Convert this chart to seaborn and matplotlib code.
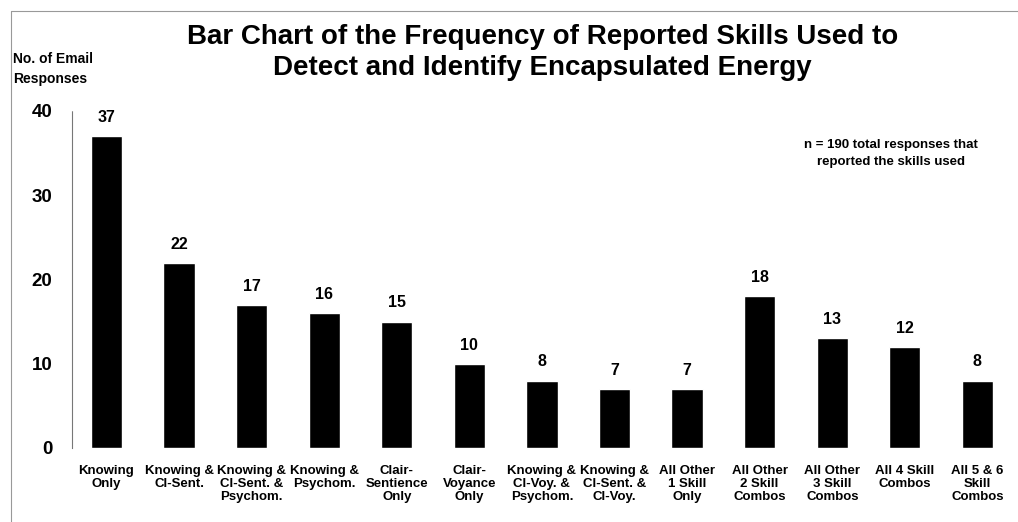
#!/usr/bin/env python3
# Bar chart of reported skills used to detect encapsulated energy

import numpy as np
import pandas as pd
import matplotlib
matplotlib.use("Agg")
import matplotlib.pyplot as plt
from matplotlib.lines import Line2D
import seaborn as sns

categories = [
    "Knowing\nOnly",
    "Knowing &\nCl-Sent.",
    "Knowing &\nCl-Sent. &\nPsychom.",
    "Knowing &\nPsychom.",
    "Clair-\nSentience\nOnly",
    "Clair-\nVoyance\nOnly",
    "Knowing &\nCl-Voy. &\nPsychom.",
    "Knowing &\nCl-Sent. &\nCl-Voy.",
    "All Other\n1 Skill\nOnly",
    "All Other\n2 Skill\nCombos",
    "All Other\n3 Skill\nCombos",
    "All 4 Skill\nCombos",
    "All 5 & 6\nSkill\nCombos",
]
counts = [37, 22, 17, 16, 15, 10, 8, 7, 7, 18, 13, 12, 8]
y_ticks = [0, 10, 20, 30, 40]


def main():
    sns.set_style("white")
    plt.rcParams["font.family"] = ["Liberation Sans", "DejaVu Sans"]
    plt.rcParams["text.color"] = "black"
    plt.rcParams["xtick.labelcolor"] = "black"
    plt.rcParams["ytick.labelcolor"] = "black"

    df = pd.DataFrame({"skill": categories, "count": counts})

    fig = plt.figure(figsize=(10.18, 5.22), dpi=100)
    ax = fig.add_axes([0.0707, 0.1418, 0.994 - 0.0707, 0.7874 - 0.1418])

    sns.barplot(data=df, x="skill", y="count", order=categories,
                color="black", width=0.43, saturation=1, ax=ax)

    ax.set_xlim(-0.475, len(categories) - 0.525)
    ax.set_ylim(0, 40)
    ax.set_yticks(y_ticks)
    ax.set_yticklabels([str(t) for t in y_ticks], fontsize=13.5, fontweight="bold")
    ax.tick_params(axis="y", direction="out", length=5, width=0.8,
                   color="#666666", pad=9)
    ax.tick_params(axis="x", length=0, pad=12)
    ax.set_xticks(range(len(categories)))
    ax.set_xticklabels(categories, fontsize=9.5, fontweight="bold",
                       linespacing=1.15)
    ax.set_xticks(np.arange(0.5, len(categories) - 1, 1), minor=True)
    ax.tick_params(axis="x", which="minor", length=3, width=0.6,
                   color="#888888", direction="out")
    ax.set_xlabel("")
    ax.set_ylabel("")

    for side in ("top", "right", "bottom"):
        ax.spines[side].set_visible(False)
    ax.spines["left"].set_color("#777777")
    ax.spines["left"].set_linewidth(0.8)
    ax.spines["left"].set_linestyle((0, (3, 1)))

    for i, v in enumerate(counts):
        ax.annotate(str(v), (i, v), xytext=(0, 8), textcoords="offset points",
                    ha="center", va="bottom", fontsize=11.5, fontweight="bold")

    fig.text(0.533, 0.900, "Bar Chart of the Frequency of Reported Skills Used to\n"
             "Detect and Identify Encapsulated Energy",
             ha="center", va="center", fontsize=20, fontweight="bold",
             linespacing=1.25)
    fig.text(0.013, 0.868, "No. of Email\nResponses", ha="left", va="center",
             fontsize=10, fontweight="bold", linespacing=1.6)
    fig.text(0.875, 0.706, "n = 190 total responses that\nreported the skills used",
             ha="center", va="center", fontsize=9.5, fontweight="bold",
             linespacing=1.55)

    # scanned page border on the left and top
    fig.add_artist(Line2D([11 / 1018, 11 / 1018], [0, 1 - 11 / 522],
                          transform=fig.transFigure, color="#999999", lw=0.8))
    fig.add_artist(Line2D([11 / 1018, 1], [1 - 11 / 522, 1 - 11 / 522],
                          transform=fig.transFigure, color="#999999", lw=0.8))

    fig.savefig("out.png", dpi=100)


if __name__ == "__main__":
    main()
